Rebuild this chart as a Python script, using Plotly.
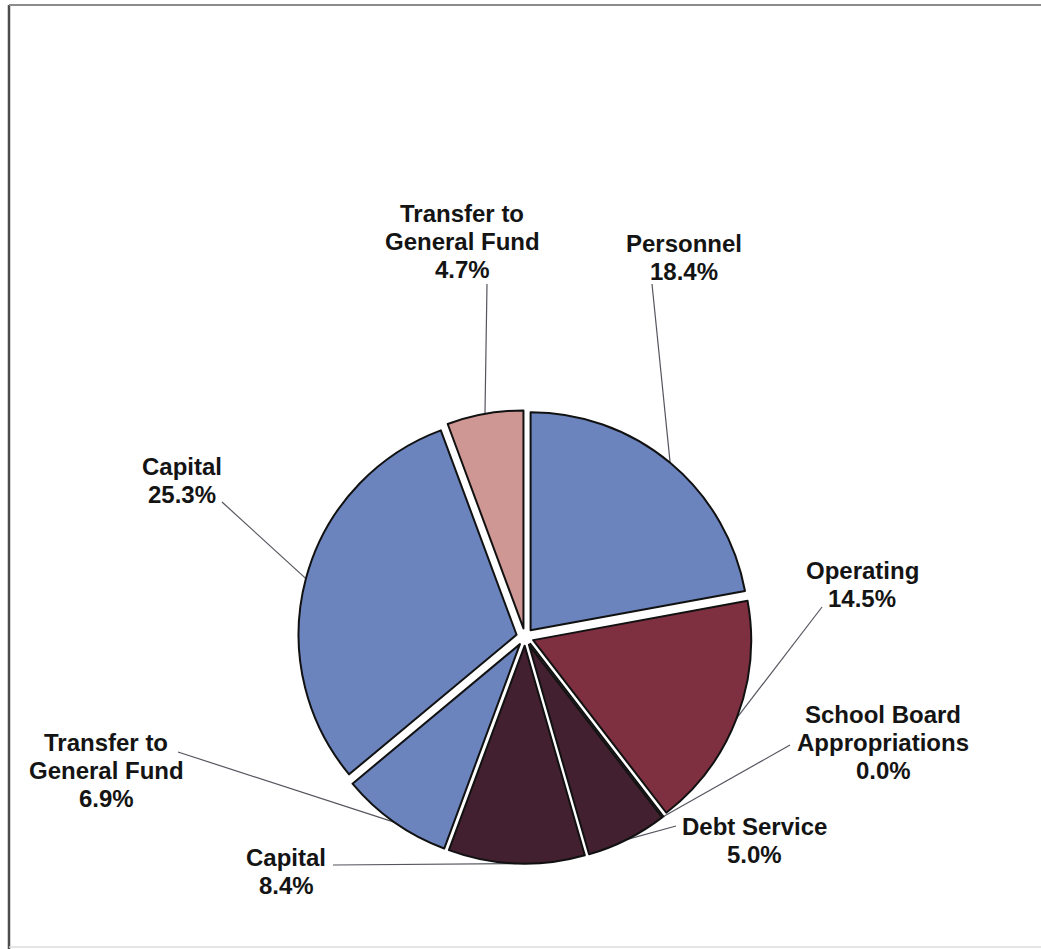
import math
import plotly.graph_objects as go

# ---- data -------------------------------------------------------------
categories = [
    "Personnel",
    "Operating",
    "School Board Appropriations",
    "Debt Service",
    "Capital",
    "Transfer to General Fund",
    "Capital",
    "Transfer to General Fund",
]
label_lines = [
    ["Personnel"],
    ["Operating"],
    ["School Board", "Appropriations"],
    ["Debt Service"],
    ["Capital"],
    ["Transfer to", "General Fund"],
    ["Capital"],
    ["Transfer to", "General Fund"],
]
shares = [18.4, 14.5, 0.0, 5.0, 8.4, 6.9, 25.3, 4.7]

# ---- styling / layout -------------------------------------------------
W, H = 1041, 949
slice_colors = ["#6B84BE", "#7E2F40", "#7E2F40", "#43202F", "#43202F",
                "#6B84BE", "#6B84BE", "#CF9793"]
CX, CY, R, PULL = 525, 637, 218, 0.04
FONT = "Liberation Sans, Arial, sans-serif"
FSIZE = 24
LINE_GAP = 28

# label block: centre x, centre y of first line, leader start (x, y)
label_pos = [
    (684, 243, 652, 284),
    (862, 570, 822, 607),
    (883, 714, 790, 745),
    (754, 826, 676, 826),
    (286, 857, 333, 865),
    (106, 742, 178, 752),
    (182, 466, 222, 502),
    (462, 213, 487, 284),
]

half = R * (1 + PULL)
dom_x = [(CX - half) / W, (CX + half) / W]
dom_y = [1 - (CY + half) / H, 1 - (CY - half) / H]

fig = go.Figure()

fig.add_trace(go.Pie(
    labels=[f"{i}" for i in range(len(categories))],
    values=shares,
    hovertext=categories,
    hoverinfo="text+value",
    sort=False,
    direction="clockwise",
    rotation=0,
    pull=[PULL] * len(shares),
    textinfo="none",
    marker=dict(colors=slice_colors, line=dict(color="#111111", width=2)),
    domain=dict(x=dom_x, y=dom_y),
    showlegend=False,
))

# leader lines: from each label to the outer arc midpoint of its slice
total = sum(shares)
cum = 0.0
for i, v in enumerate(shares):
    mid = (cum + v / 2) / total * 2 * math.pi
    cum += v
    rr = R * (1 + PULL)
    px = CX + rr * math.sin(mid)
    py = CY - rr * math.cos(mid)
    tx, ty, lx, ly = label_pos[i]
    fig.add_trace(go.Scatter(
        x=[lx, px], y=[ly, py], mode="lines",
        line=dict(color="#55555f", width=1.2),
        hoverinfo="skip", showlegend=False,
    ))
    lines = label_lines[i] + [f"{v:.1f}%"]
    for k, txt in enumerate(lines):
        fig.add_annotation(
            x=tx, y=ty + k * LINE_GAP, xref="x", yref="y",
            text=f"<b>{txt}</b>", showarrow=False,
            xanchor="center", yanchor="middle",
            font=dict(family=FONT, size=FSIZE, color="#141414"),
        )

# outer frame
fig.add_shape(type="line", x0=9, y0=5, x1=9, y1=H, xref="x", yref="y",
              line=dict(color="#4d4d4d", width=2.5))
fig.add_shape(type="line", x0=9, y0=5, x1=W, y1=5, xref="x", yref="y",
              line=dict(color="#8c8c8c", width=2))
fig.add_shape(type="line", x0=9, y0=H - 2, x1=W, y1=H - 2, xref="x", yref="y",
              line=dict(color="#dddddd", width=1.5))

fig.update_layout(
    width=W, height=H,
    margin=dict(l=0, r=0, t=0, b=0),
    paper_bgcolor="white", plot_bgcolor="white",
    xaxis=dict(range=[0, W], visible=False, domain=[0, 1], fixedrange=True),
    yaxis=dict(range=[H, 0], visible=False, domain=[0, 1], fixedrange=True),
)

fig.write_html("out.html")
